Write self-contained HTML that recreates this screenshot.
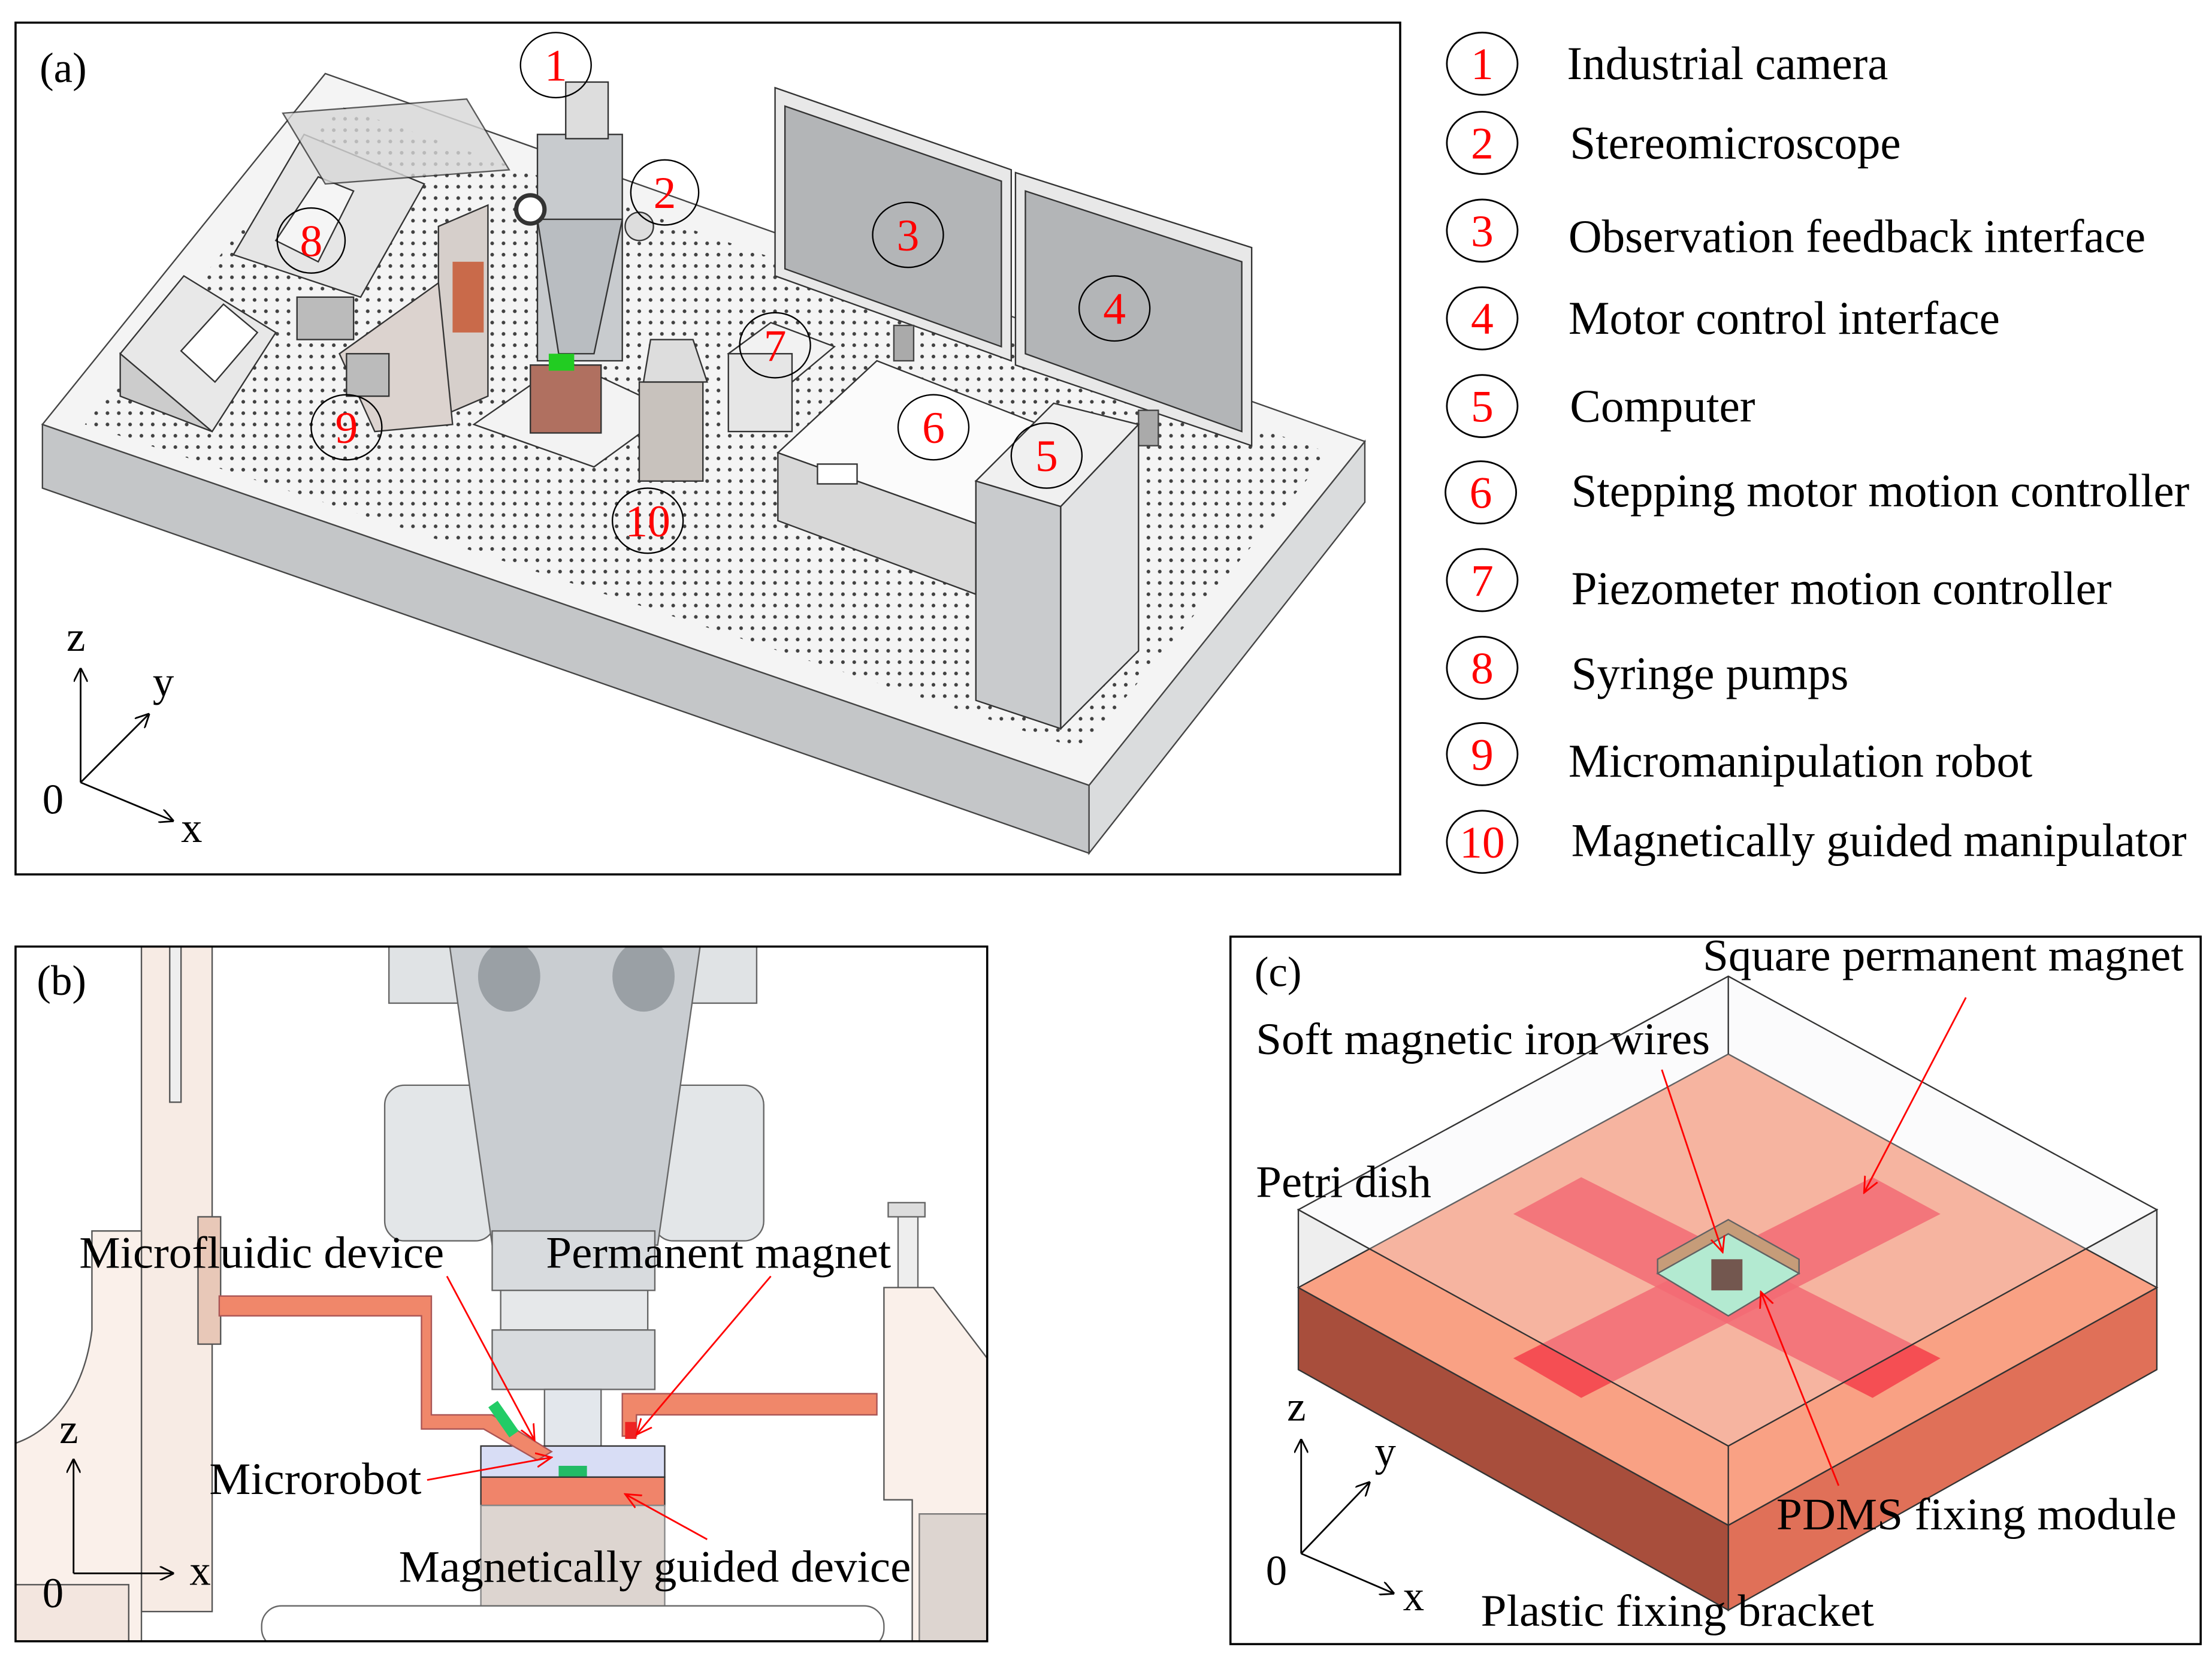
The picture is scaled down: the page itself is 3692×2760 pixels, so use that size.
<!DOCTYPE html>
<html><head><meta charset="utf-8"><style>
html,body{margin:0;padding:0;background:#fff;}
svg{display:block;}
text{font-family:"Liberation Serif",serif;}
</style></head><body>
<svg width="3692" height="2760" viewBox="0 0 1564 1169" preserveAspectRatio="none" xmlns="http://www.w3.org/2000/svg">
<defs>
<pattern id="dots" width="8" height="8" patternUnits="userSpaceOnUse"><circle cx="4" cy="4" r="1.3" fill="#222"/></pattern>
<marker id="ar" markerWidth="10" markerHeight="10" refX="9" refY="5" orient="auto" markerUnits="userSpaceOnUse"><path d="M0,0 L10,5 L0,10" fill="none" stroke="#000" stroke-width="1.2"/></marker>
<marker id="rr" markerWidth="12" markerHeight="12" refX="11" refY="6" orient="auto" markerUnits="userSpaceOnUse"><path d="M0,1 L11,6 L0,11" fill="none" stroke="#f00" stroke-width="1.2"/></marker>
</defs>
<rect width="1564" height="1169" fill="#fff"/>

<!-- ===== Panel (a) ===== -->
<rect x="11" y="16" width="979" height="602" fill="#fff" stroke="#000" stroke-width="1.5"/>
<text x="28" y="58" font-size="30">(a)</text>
<polygon points="30,300 770,555 770,603 30,345" fill="#c4c6c8" stroke="#444"/>
<polygon points="770,555 965,312 965,355 770,603" fill="#dadcdd" stroke="#444"/>
<polygon points="30,300 230,52 965,312 770,555" fill="#f4f4f4" stroke="#444"/>
<polygon points="60,300 240,75 940,320 765,530" fill="url(#dots)" opacity="0.85"/>
<polygon points="548,62 715,120 715,255 548,195" fill="#e8e8e8" stroke="#333"/>
<polygon points="555,75 708,128 708,245 555,190" fill="#b3b5b7" stroke="#333"/>
<polygon points="718,122 885,175 885,315 718,258" fill="#e8e8e8" stroke="#333"/>
<polygon points="725,135 878,185 878,305 725,250" fill="#b3b5b7" stroke="#333"/>
<rect x="632" y="230" width="14" height="25" fill="#aaa" stroke="#444"/>
<rect x="805" y="290" width="14" height="25" fill="#aaa" stroke="#444"/>
<polygon points="550,320 620,255 735,300 690,370" fill="#fbfbfb" stroke="#333"/>
<polygon points="550,320 690,370 690,420 550,368" fill="#d8d8d8" stroke="#333"/>
<rect x="578" y="328" width="28" height="14" fill="#fff" stroke="#333"/>
<polygon points="690,340 745,285 805,300 750,358" fill="#f0f0f0" stroke="#333"/>
<polygon points="690,340 750,358 750,515 690,495" fill="#c9cbcd" stroke="#333"/>
<polygon points="750,358 805,300 805,460 750,515" fill="#e2e3e4" stroke="#333"/>
<polygon points="515,250 545,228 590,245 560,270" fill="#f2f2f2" stroke="#333"/>
<rect x="515" y="250" width="45" height="55" fill="#e6e6e6" stroke="#333"/>
<rect x="380" y="95" width="60" height="160" fill="#c8cbce" stroke="#333"/>
<polygon points="380,155 440,155 420,250 395,250" fill="#b9bdc1" stroke="#333"/>
<rect x="400" y="58" width="30" height="40" fill="#ddd" stroke="#333"/>
<circle cx="375" cy="148" r="10" fill="#fff" stroke="#333" stroke-width="3"/>
<circle cx="452" cy="160" r="10" fill="#ddd" stroke="#333"/>
<polygon points="335,300 400,255 475,290 420,330" fill="#f3f3f3" stroke="#333"/>
<rect x="375" y="258" width="50" height="48" fill="#b07060" stroke="#333"/>
<rect x="388" y="250" width="18" height="12" fill="#2c2"/>
<polygon points="310,160 345,145 345,280 310,295" fill="#d6cfcb" stroke="#333"/>
<rect x="320" y="185" width="22" height="50" fill="#c96a4a"/>
<polygon points="240,250 310,200 320,300 265,305" fill="#dcd3cf" stroke="#333"/>
<rect x="210" y="210" width="40" height="30" fill="#bbb" stroke="#333"/>
<rect x="245" y="250" width="30" height="30" fill="#bbb" stroke="#333"/>
<polygon points="165,180 215,95 300,130 255,210" fill="#e6e6e6" stroke="#333"/>
<polygon points="195,170 225,125 250,135 225,185" fill="#f5f5f5" stroke="#333"/>
<polygon points="200,80 330,70 360,120 230,130" fill="#d8d8d8" stroke="#333" opacity="0.8"/>
<polygon points="85,250 130,195 195,235 150,305" fill="#e8e8e8" stroke="#333"/>
<polygon points="85,250 150,305 150,305 85,280" fill="#ccc" stroke="#333"/>
<polygon points="128,248 158,215 182,235 152,270" fill="#fff" stroke="#333"/>
<rect x="452" y="270" width="45" height="70" fill="#c8c2bd" stroke="#333"/>
<polygon points="460,240 490,240 500,270 455,270" fill="#ddd" stroke="#333"/>
<line x1="57" y1="553" x2="57" y2="473" stroke="#000" stroke-width="1.2" marker-end="url(#ar)"/>
<line x1="57" y1="553" x2="105" y2="505" stroke="#000" stroke-width="1.2" marker-end="url(#ar)"/>
<line x1="57" y1="553" x2="122" y2="580" stroke="#000" stroke-width="1.2" marker-end="url(#ar)"/>
<text x="47" y="460" font-size="30">z</text><text x="108" y="492" font-size="30">y</text>
<text x="30" y="575" font-size="30">0</text><text x="128" y="595" font-size="30">x</text>
<g fill="#fff" fill-opacity="0" stroke="#000" stroke-width="1">
<ellipse cx="393" cy="46" rx="25" ry="23"/><ellipse cx="470" cy="136" rx="24" ry="23"/>
<ellipse cx="220" cy="170" rx="24" ry="23"/><ellipse cx="642" cy="166" rx="25" ry="23"/>
<ellipse cx="788" cy="218" rx="25" ry="23"/><ellipse cx="548" cy="244" rx="25" ry="23"/>
<ellipse cx="660" cy="302" rx="25" ry="23" fill="#fff" fill-opacity="1"/><ellipse cx="740" cy="322" rx="25" ry="23"/>
<ellipse cx="245" cy="302" rx="25" ry="23"/><ellipse cx="458" cy="368" rx="25" ry="23"/>
</g>
<g fill="#f00" font-size="32" text-anchor="middle">
<text x="393" y="57">1</text><text x="470" y="147">2</text><text x="220" y="181">8</text>
<text x="642" y="177">3</text><text x="788" y="229">4</text><text x="548" y="255">7</text>
<text x="660" y="313">6</text><text x="740" y="333">5</text><text x="245" y="313">9</text><text x="458" y="379">10</text>
</g>

<!-- ===== Legend ===== -->
<g fill="none" stroke="#000" stroke-width="1.2">
<ellipse cx="1048" cy="45" rx="25" ry="22"/><ellipse cx="1048" cy="101" rx="25" ry="22"/>
<ellipse cx="1048" cy="163" rx="25" ry="22"/><ellipse cx="1048" cy="225" rx="25" ry="22"/>
<ellipse cx="1048" cy="287" rx="25" ry="22"/><ellipse cx="1047" cy="348" rx="25" ry="22"/>
<ellipse cx="1048" cy="410" rx="25" ry="22"/><ellipse cx="1048" cy="472" rx="25" ry="22"/>
<ellipse cx="1048" cy="533" rx="25" ry="22"/><ellipse cx="1048" cy="595" rx="25" ry="22"/>
</g>
<g fill="#f00" font-size="32" text-anchor="middle">
<text x="1048" y="56">1</text><text x="1048" y="112">2</text><text x="1048" y="174">3</text>
<text x="1048" y="236">4</text><text x="1048" y="298">5</text><text x="1047" y="359">6</text>
<text x="1048" y="421">7</text><text x="1048" y="483">8</text><text x="1048" y="544">9</text><text x="1048" y="606">10</text>
</g>
<g font-size="33" fill="#000" lengthAdjust="spacingAndGlyphs">
<text x="1108" y="56" textLength="227" lengthAdjust="spacingAndGlyphs">Industrial camera</text>
<text x="1110" y="112" textLength="234" lengthAdjust="spacingAndGlyphs">Stereomicroscope</text>
<text x="1109" y="178" textLength="408" lengthAdjust="spacingAndGlyphs">Observation feedback interface</text>
<text x="1109" y="236" textLength="305" lengthAdjust="spacingAndGlyphs">Motor control interface</text>
<text x="1110" y="298" textLength="131" lengthAdjust="spacingAndGlyphs">Computer</text>
<text x="1111" y="358" textLength="437" lengthAdjust="spacingAndGlyphs">Stepping motor motion controller</text>
<text x="1111" y="427" textLength="382" lengthAdjust="spacingAndGlyphs">Piezometer motion controller</text>
<text x="1111" y="487" textLength="196" lengthAdjust="spacingAndGlyphs">Syringe pumps</text>
<text x="1109" y="549" textLength="328" lengthAdjust="spacingAndGlyphs">Micromanipulation robot</text>
<text x="1111" y="605" textLength="435" lengthAdjust="spacingAndGlyphs">Magnetically guided manipulator</text>
</g>

<!-- ===== Panel (b) ===== -->
<svg x="11" y="669" width="687" height="491" viewBox="11 669 687 491" overflow="hidden">
<rect x="11" y="669" width="687" height="491" fill="#fff"/>
<rect x="100" y="669" width="50" height="470" fill="#f7ebe4" stroke="#555"/>
<rect x="120" y="669" width="8" height="110" fill="#eee" stroke="#555"/>
<path d="M11,1020 C40,1010 60,980 65,940 L65,870 L100,870 L100,1160 L11,1160 Z" fill="#faf0ea" stroke="#555"/>
<rect x="11" y="1120" width="80" height="40" fill="#f3e6df" stroke="#555"/>
<rect x="140" y="860" width="16" height="90" fill="#e8c8b8" stroke="#555"/>
<rect x="275" y="669" width="260" height="40" fill="#e0e3e5" stroke="#666"/>
<rect x="272" y="767" width="78" height="110" rx="14" fill="#e3e6e8" stroke="#666"/>
<rect x="462" y="767" width="78" height="110" rx="14" fill="#e3e6e8" stroke="#666"/>
<path d="M318,669 L495,669 L465,880 L348,880 Z" fill="#c9cdd1" stroke="#666"/>
<ellipse cx="360" cy="690" rx="22" ry="25" fill="#9aa0a5"/>
<ellipse cx="455" cy="690" rx="22" ry="25" fill="#9aa0a5"/>
<rect x="348" y="870" width="115" height="42" fill="#d8dbde" stroke="#666"/>
<rect x="354" y="912" width="104" height="28" fill="#e6e8ea" stroke="#666"/>
<rect x="348" y="940" width="115" height="42" fill="#d8dbde" stroke="#666"/>
<rect x="385" y="982" width="40" height="45" fill="#e3e7ec" stroke="#666"/>
<rect x="340" y="1022" width="130" height="22" fill="#d8ddf5" stroke="#333"/>
<rect x="395" y="1036" width="20" height="8" fill="#2b6"/>
<rect x="340" y="1044" width="130" height="20" fill="#f0846a" stroke="#333"/>
<rect x="340" y="1064" width="130" height="96" fill="#ddd5d0" stroke="#888"/>
<rect x="185" y="1135" width="440" height="30" rx="14" fill="#fff" stroke="#666"/>
<polygon points="155,916 305,916 305,1000 348,1000 390,1026 380,1032 342,1010 298,1010 298,930 155,930" fill="#f0876a" stroke="#a55"/>
<rect x="352" y="990" width="8" height="26" transform="rotate(-35 356 1003)" fill="#2c6"/>
<polygon points="440,985 620,985 620,1000 450,1000 450,1015 440,1015" fill="#f0876a" stroke="#a55"/>
<rect x="442" y="1005" width="8" height="12" fill="#e22"/>
<rect x="635" y="855" width="14" height="190" fill="#eee" stroke="#666"/>
<rect x="628" y="850" width="26" height="10" fill="#ddd" stroke="#666"/>
<path d="M625,910 L660,910 L698,960 L698,1160 L645,1160 L645,1060 L625,1060 Z" fill="#faf0ea" stroke="#555"/>
<rect x="650" y="1070" width="48" height="90" fill="#ddd5d0" stroke="#777"/>
</svg>
<rect x="11" y="669" width="687" height="491" fill="none" stroke="#000" stroke-width="1.5"/>
<text x="26" y="703" font-size="30">(b)</text>
<g font-size="32" fill="#000">
<text x="56" y="896" textLength="258" lengthAdjust="spacingAndGlyphs">Microfluidic device</text>
<text x="386" y="896" textLength="244" lengthAdjust="spacingAndGlyphs">Permanent magnet</text>
<text x="148" y="1056" textLength="150" lengthAdjust="spacingAndGlyphs">Microrobot</text>
<text x="282" y="1118" textLength="362" lengthAdjust="spacingAndGlyphs">Magnetically guided device</text>
</g>
<g stroke="#f00" stroke-width="1.2" fill="none">
<line x1="316" y1="902" x2="378" y2="1018" marker-end="url(#rr)"/>
<line x1="545" y1="902" x2="450" y2="1014" marker-end="url(#rr)"/>
<line x1="302" y1="1046" x2="390" y2="1030" marker-end="url(#rr)"/>
<line x1="500" y1="1088" x2="442" y2="1056" marker-end="url(#rr)"/>
</g>
<line x1="52" y1="1112" x2="52" y2="1032" stroke="#000" stroke-width="1.2" marker-end="url(#ar)"/>
<line x1="52" y1="1112" x2="122" y2="1112" stroke="#000" stroke-width="1.2" marker-end="url(#ar)"/>
<text x="42" y="1020" font-size="30">z</text><text x="134" y="1120" font-size="30">x</text><text x="30" y="1136" font-size="30">0</text>

<!-- ===== Panel (c) ===== -->
<rect x="870" y="662" width="686" height="500" fill="#fff" stroke="#000" stroke-width="1.5"/>
<text x="887" y="697" font-size="30">(c)</text>
<polygon points="918,910 1222,1078 1222,1138 918,968" fill="#a84e3c" stroke="#333"/>
<polygon points="1222,1078 1525,910 1525,968 1222,1138" fill="#e07058" stroke="#333"/>
<polygon points="918,855 1222,1022 1222,1078 918,910" fill="#eee" stroke="#333"/>
<polygon points="1222,1022 1525,855 1525,910 1222,1078" fill="#eee" stroke="#333"/>
<polygon points="1222,745 1525,910 1222,1078 918,910" fill="#f9a184" stroke="#333"/>
<polygon points="1070,858 1118,832 1372,960 1324,988" fill="#f4404a" opacity="0.85"/>
<polygon points="1070,960 1324,832 1372,858 1118,988" fill="#f4404a" opacity="0.85"/>
<polygon points="1222,872 1272,900 1222,930 1172,900" fill="#9fe8c6" stroke="#333"/>
<polygon points="1172,890 1222,862 1272,890 1272,900 1222,872 1172,900" fill="#b88050" stroke="#333"/>
<rect x="1210" y="890" width="22" height="22" fill="#4a2418"/>
<polygon points="1222,690 1525,855 1222,1022 918,855" fill="#eef0f2" fill-opacity="0.25" stroke="#333"/>
<line x1="1222" y1="690" x2="1222" y2="745" stroke="#333"/>
<line x1="1222" y1="1022" x2="1222" y2="1138" stroke="#333"/>
<g font-size="32" fill="#000">
<text x="1204" y="686" textLength="340" lengthAdjust="spacingAndGlyphs">Square permanent magnet</text>
<text x="888" y="745" textLength="321" lengthAdjust="spacingAndGlyphs">Soft magnetic iron wires</text>
<text x="888" y="846" textLength="124" lengthAdjust="spacingAndGlyphs">Petri dish</text>
<text x="1256" y="1081" textLength="283" lengthAdjust="spacingAndGlyphs">PDMS fixing module</text>
<text x="1047" y="1149" textLength="278" lengthAdjust="spacingAndGlyphs">Plastic fixing bracket</text>
</g>
<g stroke="#f00" stroke-width="1.2" fill="none">
<line x1="1390" y1="705" x2="1318" y2="843" marker-end="url(#rr)"/>
<line x1="1175" y1="756" x2="1218" y2="885" marker-end="url(#rr)"/>
<line x1="1300" y1="1050" x2="1245" y2="913" marker-end="url(#rr)"/>
</g>
<line x1="920" y1="1098" x2="920" y2="1018" stroke="#000" stroke-width="1.2" marker-end="url(#ar)"/>
<line x1="920" y1="1098" x2="968" y2="1048" stroke="#000" stroke-width="1.2" marker-end="url(#ar)"/>
<line x1="920" y1="1098" x2="985" y2="1126" stroke="#000" stroke-width="1.2" marker-end="url(#ar)"/>
<text x="910" y="1004" font-size="30">z</text><text x="972" y="1036" font-size="30">y</text>
<text x="895" y="1120" font-size="30">0</text><text x="992" y="1138" font-size="30">x</text>
</svg>
</body></html>
